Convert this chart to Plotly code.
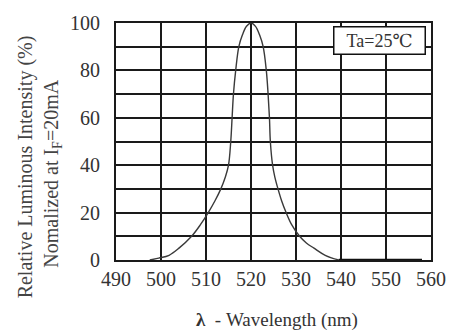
import plotly.graph_objects as go

# Spectrum (wavelength nm, relative intensity %)
wavelength = [497.5, 499.5, 501.8, 504.0, 506.8, 508.8, 510.5, 512.0, 513.3, 514.3, 515.0, 515.5, 515.8, 516.1, 516.6, 517.3, 518.1, 519.0, 520,
              521.0, 521.9, 522.7, 523.4, 523.8, 524.1, 524.3, 524.8, 525.3, 526.0, 526.8, 527.8, 529.0, 530.8, 532.3, 534.0, 536.5, 539.5]
intensity = [0, 0.8, 2, 5, 10, 15, 20, 25, 30, 35, 40, 50, 60, 70, 80, 90, 95, 98.6, 100,
             98.6, 95, 90, 80, 70, 60, 50, 40, 35, 30, 25, 20, 15, 10, 7.2, 5, 2, 0]
tail_x = [539.5, 558]
tail_y = [0, 0]

x_ticks = [490, 500, 510, 520, 530, 540, 550, 560]
y_ticks = [0, 20, 40, 60, 80, 100]

FONT = "Liberation Serif, Times New Roman, DejaVu Serif, serif"
GRID = "#1a1a1a"

fig = go.Figure()
fig.add_trace(go.Scatter(x=wavelength, y=intensity, mode="lines",
                         line=dict(color="#3a3a3a", width=1.4, shape="spline", smoothing=1.0),
                         hoverinfo="skip", showlegend=False))
fig.add_trace(go.Scatter(x=tail_x, y=tail_y, mode="lines",
                         line=dict(color="#111111", width=2.5),
                         hoverinfo="skip", showlegend=False))

fig.update_layout(
    width=460, height=331,
    margin=dict(l=116, r=29, t=13, b=71),
    paper_bgcolor="white", plot_bgcolor="white",
    font=dict(family=FONT, color="#333333", size=20),
    xaxis=dict(range=[490, 560], tickvals=x_ticks, showgrid=True, gridcolor=GRID, gridwidth=2,
               zeroline=False, showline=True, linecolor=GRID, linewidth=2, mirror=True,
               ticks="", tickfont=dict(family=FONT, size=20, color="#333333")),
    yaxis=dict(range=[0, 100], tickvals=y_ticks, showgrid=True, gridcolor=GRID, gridwidth=2,
               minor=dict(dtick=10, tick0=0, showgrid=True, gridcolor=GRID, gridwidth=2),
               zeroline=False, showline=True, linecolor=GRID, linewidth=2, mirror=True,
               ticks="outside", ticklen=10, tickcolor="rgba(0,0,0,0)",
               tickfont=dict(family=FONT, size=20, color="#333333")),
)

fig.add_annotation(xref="paper", yref="paper", x=0.984, y=0.988, xanchor="right", yanchor="top",
                   text="&nbsp;&nbsp;Ta=25℃&nbsp;&nbsp;", showarrow=False,
                   font=dict(family=FONT, size=18, color="#333333"),
                   bordercolor="#111111", borderwidth=1.5, borderpad=3, bgcolor="white")

fig.add_annotation(xref="paper", yref="paper", x=0.51, y=-0.2, xanchor="center", yanchor="top",
                   text="<b>λ</b>  - Wavelength (nm)", showarrow=False,
                   font=dict(family=FONT, size=19, color="#333333"))

fig.add_annotation(xref="paper", yref="paper", x=-0.289, y=0.395, xanchor="center", yanchor="middle",
                   text="Relative Luminous Intensity (%)", textangle=-90, showarrow=False,
                   font=dict(family=FONT, size=20, color="#444444"))
fig.add_annotation(xref="paper", yref="paper", x=-0.2, y=0.364, xanchor="center", yanchor="middle",
                   text="Nomalized at I<sub>F</sub>=20mA", textangle=-90, showarrow=False,
                   font=dict(family=FONT, size=20, color="#444444"))

fig.write_html("out.html")
